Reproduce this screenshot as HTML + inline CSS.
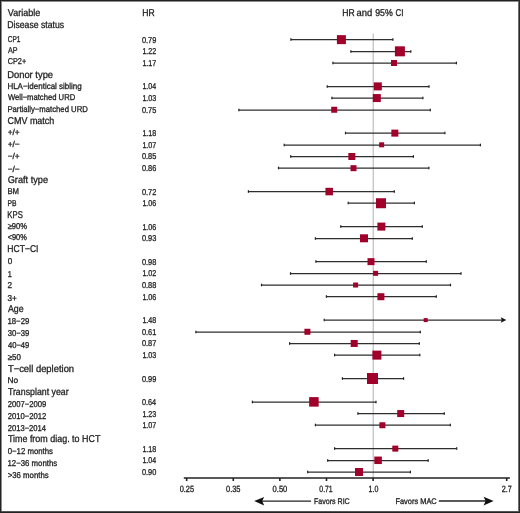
<!DOCTYPE html>
<html><head><meta charset="utf-8"><style>
html,body{margin:0;padding:0;background:#fff;}
body{width:520px;height:513px;overflow:hidden;}
svg{display:block;will-change:transform;}
text{font-family:"Liberation Sans",sans-serif;fill:#222;stroke:#222;stroke-width:0.3px;text-rendering:geometricPrecision;}
</style></head><body>
<svg width="520" height="513" viewBox="0 0 520 513">
<rect x="0" y="0" width="520" height="513" fill="#fff"/>
<g shape-rendering="crispEdges">
<rect x="1" y="1" width="518" height="1" fill="#8a8a8a"/>
<rect x="1" y="1" width="1" height="511" fill="#8a8a8a"/>
<rect x="518" y="1" width="1" height="511" fill="#707070"/>
<rect x="1" y="511" width="518" height="1" fill="#555"/>
<rect x="0" y="0" width="520" height="1" fill="#222"/>
<rect x="0" y="0" width="1" height="513" fill="#222"/>
<rect x="519" y="0" width="1" height="513" fill="#2a2a2a"/>
<rect x="0" y="512" width="520" height="1" fill="#222"/>
</g>
<line x1="373.20" y1="33.5" x2="373.20" y2="478" stroke="#b0b0b0" stroke-width="1"/>
<line x1="290.90" y1="39.50" x2="392.90" y2="39.50" stroke="#2e2e2e" stroke-width="1.25"/>
<rect x="290.30" y="38.20" width="1.2" height="2.6" fill="#222"/>
<rect x="392.30" y="38.20" width="1.2" height="2.6" fill="#222"/>
<rect x="336.90" y="35.14" width="9" height="9" fill="#a1002a"/>
<line x1="350.90" y1="51.50" x2="410.80" y2="51.50" stroke="#2e2e2e" stroke-width="1.25"/>
<rect x="350.30" y="50.20" width="1.2" height="2.6" fill="#222"/>
<rect x="410.20" y="50.20" width="1.2" height="2.6" fill="#222"/>
<rect x="394.90" y="46.33" width="10" height="10" fill="#a1002a"/>
<line x1="332.90" y1="63.00" x2="456.40" y2="63.00" stroke="#2e2e2e" stroke-width="1.25"/>
<rect x="332.30" y="61.70" width="1.2" height="2.6" fill="#222"/>
<rect x="455.80" y="61.70" width="1.2" height="2.6" fill="#222"/>
<rect x="391.00" y="60.01" width="6" height="6" fill="#a1002a"/>
<line x1="327.20" y1="86.50" x2="429.00" y2="86.50" stroke="#2e2e2e" stroke-width="1.25"/>
<rect x="326.60" y="85.20" width="1.2" height="2.6" fill="#222"/>
<rect x="428.40" y="85.20" width="1.2" height="2.6" fill="#222"/>
<rect x="373.80" y="82.38" width="8" height="8" fill="#a1002a"/>
<line x1="331.90" y1="98.00" x2="422.90" y2="98.00" stroke="#2e2e2e" stroke-width="1.25"/>
<rect x="331.30" y="96.70" width="1.2" height="2.6" fill="#222"/>
<rect x="422.30" y="96.70" width="1.2" height="2.6" fill="#222"/>
<rect x="372.80" y="94.06" width="8" height="8" fill="#a1002a"/>
<line x1="238.90" y1="110.00" x2="430.30" y2="110.00" stroke="#2e2e2e" stroke-width="1.25"/>
<rect x="238.30" y="108.70" width="1.2" height="2.6" fill="#222"/>
<rect x="429.70" y="108.70" width="1.2" height="2.6" fill="#222"/>
<rect x="331.20" y="106.75" width="6" height="6" fill="#a1002a"/>
<line x1="345.50" y1="133.00" x2="444.90" y2="133.00" stroke="#2e2e2e" stroke-width="1.25"/>
<rect x="344.90" y="131.70" width="1.2" height="2.6" fill="#222"/>
<rect x="444.30" y="131.70" width="1.2" height="2.6" fill="#222"/>
<rect x="391.35" y="129.62" width="7" height="7" fill="#a1002a"/>
<line x1="284.20" y1="145.00" x2="480.40" y2="145.00" stroke="#2e2e2e" stroke-width="1.25"/>
<rect x="283.60" y="143.70" width="1.2" height="2.6" fill="#222"/>
<rect x="479.80" y="143.70" width="1.2" height="2.6" fill="#222"/>
<rect x="379.15" y="142.31" width="5" height="5" fill="#a1002a"/>
<line x1="290.70" y1="156.50" x2="413.40" y2="156.50" stroke="#2e2e2e" stroke-width="1.25"/>
<rect x="290.10" y="155.20" width="1.2" height="2.6" fill="#222"/>
<rect x="412.80" y="155.20" width="1.2" height="2.6" fill="#222"/>
<rect x="348.35" y="152.99" width="7" height="7" fill="#a1002a"/>
<line x1="278.50" y1="168.00" x2="428.90" y2="168.00" stroke="#2e2e2e" stroke-width="1.25"/>
<rect x="277.90" y="166.70" width="1.2" height="2.6" fill="#222"/>
<rect x="428.30" y="166.70" width="1.2" height="2.6" fill="#222"/>
<rect x="350.50" y="165.18" width="6" height="6" fill="#a1002a"/>
<line x1="248.40" y1="191.50" x2="394.30" y2="191.50" stroke="#2e2e2e" stroke-width="1.25"/>
<rect x="247.80" y="190.20" width="1.2" height="2.6" fill="#222"/>
<rect x="393.70" y="190.20" width="1.2" height="2.6" fill="#222"/>
<rect x="325.45" y="187.80" width="7.5" height="7.5" fill="#a1002a"/>
<line x1="348.20" y1="203.00" x2="414.40" y2="203.00" stroke="#2e2e2e" stroke-width="1.25"/>
<rect x="347.60" y="201.70" width="1.2" height="2.6" fill="#222"/>
<rect x="413.80" y="201.70" width="1.2" height="2.6" fill="#222"/>
<rect x="376.00" y="198.23" width="10" height="10" fill="#a1002a"/>
<line x1="340.80" y1="226.50" x2="422.30" y2="226.50" stroke="#2e2e2e" stroke-width="1.25"/>
<rect x="340.20" y="225.20" width="1.2" height="2.6" fill="#222"/>
<rect x="421.70" y="225.20" width="1.2" height="2.6" fill="#222"/>
<rect x="377.40" y="222.60" width="8" height="8" fill="#a1002a"/>
<line x1="315.40" y1="238.50" x2="412.30" y2="238.50" stroke="#2e2e2e" stroke-width="1.25"/>
<rect x="314.80" y="237.20" width="1.2" height="2.6" fill="#222"/>
<rect x="411.70" y="237.20" width="1.2" height="2.6" fill="#222"/>
<rect x="360.00" y="234.29" width="8" height="8" fill="#a1002a"/>
<line x1="315.90" y1="261.50" x2="426.30" y2="261.50" stroke="#2e2e2e" stroke-width="1.25"/>
<rect x="315.30" y="260.20" width="1.2" height="2.6" fill="#222"/>
<rect x="425.70" y="260.20" width="1.2" height="2.6" fill="#222"/>
<rect x="367.50" y="258.16" width="7" height="7" fill="#a1002a"/>
<line x1="290.50" y1="273.50" x2="461.00" y2="273.50" stroke="#2e2e2e" stroke-width="1.25"/>
<rect x="289.90" y="272.20" width="1.2" height="2.6" fill="#222"/>
<rect x="460.40" y="272.20" width="1.2" height="2.6" fill="#222"/>
<rect x="373.10" y="270.84" width="5" height="5" fill="#a1002a"/>
<line x1="261.50" y1="285.00" x2="450.50" y2="285.00" stroke="#2e2e2e" stroke-width="1.25"/>
<rect x="260.90" y="283.70" width="1.2" height="2.6" fill="#222"/>
<rect x="449.90" y="283.70" width="1.2" height="2.6" fill="#222"/>
<rect x="353.10" y="282.53" width="5" height="5" fill="#a1002a"/>
<line x1="326.40" y1="296.50" x2="436.30" y2="296.50" stroke="#2e2e2e" stroke-width="1.25"/>
<rect x="325.80" y="295.20" width="1.2" height="2.6" fill="#222"/>
<rect x="435.70" y="295.20" width="1.2" height="2.6" fill="#222"/>
<rect x="377.40" y="293.21" width="7" height="7" fill="#a1002a"/>
<line x1="324.20" y1="320.00" x2="502.30" y2="320.00" stroke="#2e2e2e" stroke-width="1.25"/>
<path d="M506.30,320.00 L500.80,317.20 L501.80,320.00 L500.80,322.80 Z" fill="#111"/>
<rect x="323.60" y="318.70" width="1.2" height="2.6" fill="#222"/>
<rect x="423.70" y="318.08" width="4" height="4" fill="#a1002a"/>
<line x1="195.90" y1="332.00" x2="420.30" y2="332.00" stroke="#2e2e2e" stroke-width="1.25"/>
<rect x="195.30" y="330.70" width="1.2" height="2.6" fill="#222"/>
<rect x="419.70" y="330.70" width="1.2" height="2.6" fill="#222"/>
<rect x="304.40" y="328.76" width="6" height="6" fill="#a1002a"/>
<line x1="289.60" y1="343.50" x2="419.30" y2="343.50" stroke="#2e2e2e" stroke-width="1.25"/>
<rect x="289.00" y="342.20" width="1.2" height="2.6" fill="#222"/>
<rect x="418.70" y="342.20" width="1.2" height="2.6" fill="#222"/>
<rect x="350.70" y="339.95" width="7" height="7" fill="#a1002a"/>
<line x1="334.60" y1="355.00" x2="419.80" y2="355.00" stroke="#2e2e2e" stroke-width="1.25"/>
<rect x="334.00" y="353.70" width="1.2" height="2.6" fill="#222"/>
<rect x="419.20" y="353.70" width="1.2" height="2.6" fill="#222"/>
<rect x="372.40" y="350.63" width="9" height="9" fill="#a1002a"/>
<line x1="342.40" y1="378.50" x2="403.60" y2="378.50" stroke="#2e2e2e" stroke-width="1.25"/>
<rect x="341.80" y="377.20" width="1.2" height="2.6" fill="#222"/>
<rect x="403.00" y="377.20" width="1.2" height="2.6" fill="#222"/>
<rect x="367.00" y="373.00" width="11" height="11" fill="#a1002a"/>
<line x1="252.40" y1="402.00" x2="376.00" y2="402.00" stroke="#2e2e2e" stroke-width="1.25"/>
<rect x="251.80" y="400.70" width="1.2" height="2.6" fill="#222"/>
<rect x="375.40" y="400.70" width="1.2" height="2.6" fill="#222"/>
<rect x="309.15" y="397.12" width="9.5" height="9.5" fill="#a1002a"/>
<line x1="357.90" y1="413.50" x2="444.30" y2="413.50" stroke="#2e2e2e" stroke-width="1.25"/>
<rect x="357.30" y="412.20" width="1.2" height="2.6" fill="#222"/>
<rect x="443.70" y="412.20" width="1.2" height="2.6" fill="#222"/>
<rect x="397.20" y="410.06" width="7" height="7" fill="#a1002a"/>
<line x1="315.40" y1="425.00" x2="450.30" y2="425.00" stroke="#2e2e2e" stroke-width="1.25"/>
<rect x="314.80" y="423.70" width="1.2" height="2.6" fill="#222"/>
<rect x="449.70" y="423.70" width="1.2" height="2.6" fill="#222"/>
<rect x="379.40" y="422.25" width="6" height="6" fill="#a1002a"/>
<line x1="334.60" y1="448.50" x2="456.70" y2="448.50" stroke="#2e2e2e" stroke-width="1.25"/>
<rect x="334.00" y="447.20" width="1.2" height="2.6" fill="#222"/>
<rect x="456.10" y="447.20" width="1.2" height="2.6" fill="#222"/>
<rect x="392.30" y="445.62" width="6" height="6" fill="#a1002a"/>
<line x1="327.70" y1="460.50" x2="428.20" y2="460.50" stroke="#2e2e2e" stroke-width="1.25"/>
<rect x="327.10" y="459.20" width="1.2" height="2.6" fill="#222"/>
<rect x="427.60" y="459.20" width="1.2" height="2.6" fill="#222"/>
<rect x="374.35" y="456.55" width="7.5" height="7.5" fill="#a1002a"/>
<line x1="307.70" y1="472.00" x2="410.40" y2="472.00" stroke="#2e2e2e" stroke-width="1.25"/>
<rect x="307.10" y="470.70" width="1.2" height="2.6" fill="#222"/>
<rect x="409.80" y="470.70" width="1.2" height="2.6" fill="#222"/>
<rect x="355.00" y="467.99" width="8" height="8" fill="#a1002a"/>
<line x1="183.8" y1="478" x2="509.9" y2="478" stroke="#222" stroke-width="1.5"/>
<rect x="185.84" y="478" width="1.6" height="3" fill="#222"/>
<rect x="232.48" y="478" width="1.6" height="3" fill="#222"/>
<rect x="279.07" y="478" width="1.6" height="3" fill="#222"/>
<rect x="325.68" y="478" width="1.6" height="3" fill="#222"/>
<rect x="372.30" y="478" width="1.6" height="3" fill="#222"/>
<rect x="505.89" y="478" width="1.6" height="3" fill="#222"/>
<line x1="262" y1="501.1" x2="311" y2="501.1" stroke="#222" stroke-width="1.3"/>
<path d="M254.2,501.1 L264.2,496.9 L262.2,501.1 L264.2,505.4 Z" fill="#111"/>
<line x1="438.8" y1="501" x2="486" y2="501" stroke="#222" stroke-width="1.3"/>
<path d="M493.6,501 L483.6,496.8 L485.6,501 L483.6,505.4 Z" fill="#111"/>
<text x="7.24" y="28.00" font-size="9.9" textLength="56.91" lengthAdjust="spacingAndGlyphs">Disease status</text>
<text x="7.71" y="41.90" font-size="8.5" textLength="12.72" lengthAdjust="spacingAndGlyphs">CP1</text>
<text x="141.88" y="42.64" font-size="8.5" textLength="14.38" lengthAdjust="spacingAndGlyphs">0.79</text>
<text x="7.90" y="52.80" font-size="8.5" textLength="9.49" lengthAdjust="spacingAndGlyphs">AP</text>
<text x="142.38" y="54.33" font-size="8.5" textLength="13.87" lengthAdjust="spacingAndGlyphs">1.22</text>
<text x="7.68" y="64.40" font-size="8.5" textLength="18.53" lengthAdjust="spacingAndGlyphs">CP2+</text>
<text x="142.38" y="66.01" font-size="8.5" textLength="13.87" lengthAdjust="spacingAndGlyphs">1.17</text>
<text x="7.19" y="77.90" font-size="9.9" textLength="45.91" lengthAdjust="spacingAndGlyphs">Donor type</text>
<text x="7.43" y="88.90" font-size="8.5" textLength="74.25" lengthAdjust="spacingAndGlyphs">HLA−identical sibling</text>
<text x="142.39" y="89.38" font-size="8.5" textLength="13.65" lengthAdjust="spacingAndGlyphs">1.04</text>
<text x="7.90" y="100.10" font-size="8.5" textLength="67.30" lengthAdjust="spacingAndGlyphs">Well−matched URD</text>
<text x="142.38" y="101.06" font-size="8.5" textLength="13.87" lengthAdjust="spacingAndGlyphs">1.03</text>
<text x="7.45" y="111.80" font-size="8.5" textLength="80.35" lengthAdjust="spacingAndGlyphs">Partially−matched URD</text>
<text x="141.88" y="112.75" font-size="8.5" textLength="14.38" lengthAdjust="spacingAndGlyphs">0.75</text>
<text x="7.45" y="123.60" font-size="9.9" textLength="46.89" lengthAdjust="spacingAndGlyphs">CMV match</text>
<text x="7.65" y="135.30" font-size="8.5" textLength="12.14" lengthAdjust="spacingAndGlyphs">+/+</text>
<text x="142.38" y="136.12" font-size="8.5" textLength="13.87" lengthAdjust="spacingAndGlyphs">1.18</text>
<text x="7.65" y="147.40" font-size="8.5" textLength="12.14" lengthAdjust="spacingAndGlyphs">+/−</text>
<text x="142.38" y="147.81" font-size="8.5" textLength="13.87" lengthAdjust="spacingAndGlyphs">1.07</text>
<text x="7.65" y="159.30" font-size="8.5" textLength="12.14" lengthAdjust="spacingAndGlyphs">−/+</text>
<text x="141.88" y="159.49" font-size="8.5" textLength="14.38" lengthAdjust="spacingAndGlyphs">0.85</text>
<text x="7.65" y="171.50" font-size="8.5" textLength="12.14" lengthAdjust="spacingAndGlyphs">−/−</text>
<text x="141.88" y="171.18" font-size="8.5" textLength="14.38" lengthAdjust="spacingAndGlyphs">0.86</text>
<text x="7.67" y="183.30" font-size="9.9" textLength="40.47" lengthAdjust="spacingAndGlyphs">Graft type</text>
<text x="7.44" y="194.10" font-size="8.5" textLength="11.61" lengthAdjust="spacingAndGlyphs">BM</text>
<text x="141.88" y="194.55" font-size="8.5" textLength="14.38" lengthAdjust="spacingAndGlyphs">0.72</text>
<text x="7.50" y="205.80" font-size="8.5" textLength="8.97" lengthAdjust="spacingAndGlyphs">PB</text>
<text x="142.38" y="206.23" font-size="8.5" textLength="13.87" lengthAdjust="spacingAndGlyphs">1.06</text>
<text x="7.31" y="217.90" font-size="9.9" textLength="15.50" lengthAdjust="spacingAndGlyphs">KPS</text>
<text x="7.68" y="229.30" font-size="8.5" textLength="19.39" lengthAdjust="spacingAndGlyphs">≥90%</text>
<text x="142.38" y="229.60" font-size="8.5" textLength="13.87" lengthAdjust="spacingAndGlyphs">1.06</text>
<text x="7.68" y="240.40" font-size="8.5" textLength="19.12" lengthAdjust="spacingAndGlyphs">&lt;90%</text>
<text x="141.88" y="241.29" font-size="8.5" textLength="14.38" lengthAdjust="spacingAndGlyphs">0.93</text>
<text x="7.25" y="252.00" font-size="9.9" textLength="31.25" lengthAdjust="spacingAndGlyphs">HCT−CI</text>
<text x="7.81" y="263.70" font-size="8.5" textLength="4.51" lengthAdjust="spacingAndGlyphs">0</text>
<text x="141.88" y="264.66" font-size="8.5" textLength="14.38" lengthAdjust="spacingAndGlyphs">0.98</text>
<text x="7.67" y="276.60" font-size="8.5" textLength="4.02" lengthAdjust="spacingAndGlyphs">1</text>
<text x="142.38" y="276.34" font-size="8.5" textLength="13.87" lengthAdjust="spacingAndGlyphs">1.02</text>
<text x="7.56" y="288.10" font-size="8.5" textLength="4.57" lengthAdjust="spacingAndGlyphs">2</text>
<text x="141.88" y="288.03" font-size="8.5" textLength="14.38" lengthAdjust="spacingAndGlyphs">0.88</text>
<text x="7.56" y="300.50" font-size="8.5" textLength="9.34" lengthAdjust="spacingAndGlyphs">3+</text>
<text x="142.38" y="299.71" font-size="8.5" textLength="13.87" lengthAdjust="spacingAndGlyphs">1.06</text>
<text x="7.90" y="312.40" font-size="9.9" textLength="15.69" lengthAdjust="spacingAndGlyphs">Age</text>
<text x="7.44" y="323.80" font-size="8.5" textLength="21.90" lengthAdjust="spacingAndGlyphs">18−29</text>
<text x="142.38" y="323.08" font-size="8.5" textLength="13.87" lengthAdjust="spacingAndGlyphs">1.48</text>
<text x="7.67" y="335.90" font-size="8.5" textLength="21.67" lengthAdjust="spacingAndGlyphs">30−39</text>
<text x="141.88" y="334.76" font-size="8.5" textLength="14.38" lengthAdjust="spacingAndGlyphs">0.61</text>
<text x="7.90" y="347.90" font-size="8.5" textLength="21.44" lengthAdjust="spacingAndGlyphs">40−49</text>
<text x="141.88" y="346.45" font-size="8.5" textLength="14.38" lengthAdjust="spacingAndGlyphs">0.87</text>
<text x="7.67" y="359.80" font-size="8.5" textLength="13.15" lengthAdjust="spacingAndGlyphs">≥50</text>
<text x="142.38" y="358.13" font-size="8.5" textLength="13.87" lengthAdjust="spacingAndGlyphs">1.03</text>
<text x="7.90" y="371.50" font-size="9.9" textLength="66.23" lengthAdjust="spacingAndGlyphs">T−cell depletion</text>
<text x="7.41" y="382.90" font-size="8.5" textLength="10.61" lengthAdjust="spacingAndGlyphs">No</text>
<text x="141.88" y="381.50" font-size="8.5" textLength="14.38" lengthAdjust="spacingAndGlyphs">0.99</text>
<text x="7.90" y="395.10" font-size="9.9" textLength="60.80" lengthAdjust="spacingAndGlyphs">Transplant year</text>
<text x="7.67" y="406.70" font-size="8.5" textLength="38.69" lengthAdjust="spacingAndGlyphs">2007−2009</text>
<text x="141.89" y="404.88" font-size="8.5" textLength="14.15" lengthAdjust="spacingAndGlyphs">0.64</text>
<text x="7.67" y="418.80" font-size="8.5" textLength="38.69" lengthAdjust="spacingAndGlyphs">2010−2012</text>
<text x="142.38" y="416.56" font-size="8.5" textLength="13.87" lengthAdjust="spacingAndGlyphs">1.23</text>
<text x="7.68" y="430.70" font-size="8.5" textLength="38.37" lengthAdjust="spacingAndGlyphs">2013−2014</text>
<text x="142.38" y="428.25" font-size="8.5" textLength="13.87" lengthAdjust="spacingAndGlyphs">1.07</text>
<text x="7.90" y="441.80" font-size="9.9" textLength="92.50" lengthAdjust="spacingAndGlyphs">Time from diag. to HCT</text>
<text x="7.67" y="453.70" font-size="8.5" textLength="45.36" lengthAdjust="spacingAndGlyphs">0−12 months</text>
<text x="142.38" y="451.62" font-size="8.5" textLength="13.87" lengthAdjust="spacingAndGlyphs">1.18</text>
<text x="7.44" y="465.80" font-size="8.5" textLength="49.76" lengthAdjust="spacingAndGlyphs">12−36 months</text>
<text x="142.39" y="463.30" font-size="8.5" textLength="13.65" lengthAdjust="spacingAndGlyphs">1.04</text>
<text x="7.67" y="477.80" font-size="8.5" textLength="41.07" lengthAdjust="spacingAndGlyphs">&gt;36 months</text>
<text x="141.88" y="474.99" font-size="8.5" textLength="14.38" lengthAdjust="spacingAndGlyphs">0.90</text>
<text x="7.80" y="15.70" font-size="9.9" textLength="32.43" lengthAdjust="spacingAndGlyphs">Variable</text>
<text x="142.35" y="15.90" font-size="9.9" textLength="12.38" lengthAdjust="spacingAndGlyphs">HR</text>
<text x="342.35" y="16.00" font-size="9.9" textLength="12.38" lengthAdjust="spacingAndGlyphs">HR</text>
<text x="356.56" y="16.00" font-size="9.9" textLength="15.70" lengthAdjust="spacingAndGlyphs">and</text>
<text x="375.18" y="16.00" font-size="9.9" textLength="17.56" lengthAdjust="spacingAndGlyphs">95%</text>
<text x="395.59" y="16.00" font-size="9.9" textLength="8.02" lengthAdjust="spacingAndGlyphs">CI</text>
<text x="179.69" y="491.80" font-size="9.0" textLength="14.44" lengthAdjust="spacingAndGlyphs">0.25</text>
<text x="225.99" y="491.80" font-size="9.0" textLength="14.54" lengthAdjust="spacingAndGlyphs">0.35</text>
<text x="272.59" y="491.80" font-size="9.0" textLength="14.75" lengthAdjust="spacingAndGlyphs">0.50</text>
<text x="319.31" y="491.80" font-size="9.0" textLength="13.41" lengthAdjust="spacingAndGlyphs">0.71</text>
<text x="368.61" y="491.80" font-size="9.0" textLength="9.80" lengthAdjust="spacingAndGlyphs">1.0</text>
<text x="501.80" y="491.80" font-size="9.0" textLength="10.01" lengthAdjust="spacingAndGlyphs">2.7</text>
<text x="313.97" y="503.60" font-size="8.2" textLength="35.77" lengthAdjust="spacingAndGlyphs">Favors RIC</text>
<text x="395.45" y="503.60" font-size="8.2" textLength="41.28" lengthAdjust="spacingAndGlyphs">Favors MAC</text>
</svg>
</body></html>
